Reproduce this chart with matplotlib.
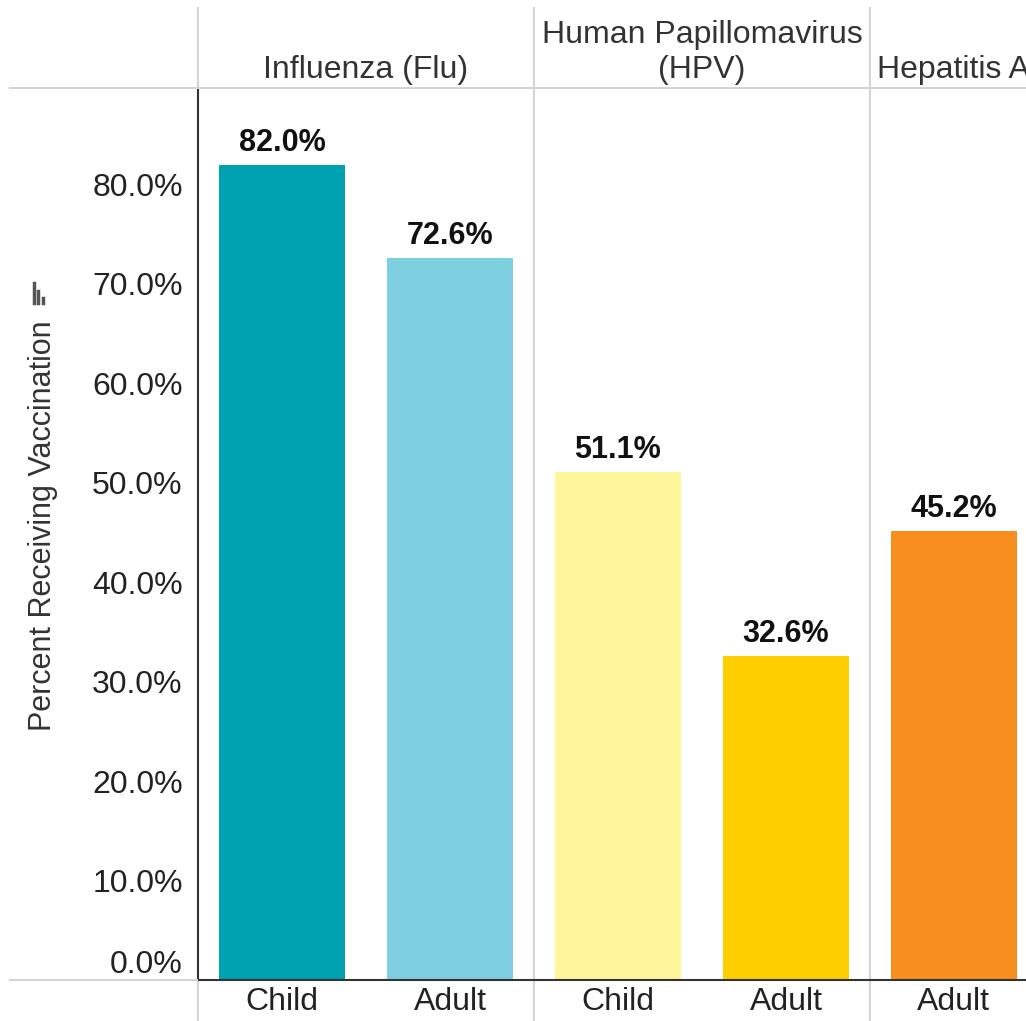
import matplotlib
matplotlib.use("Agg")
import matplotlib.pyplot as plt
from matplotlib.lines import Line2D

plt.rcParams['font.family'] = ['Liberation Sans', 'DejaVu Sans']

# data
vaccines = ["Influenza (Flu)", "Human Papillomavirus\n(HPV)", "Hepatitis A"]
groups = ["Child", "Adult", "Child", "Adult", "Adult"]
vaccine_of_bar = [0, 0, 1, 1, 2]
percents = [82.0, 72.6, 51.1, 32.6, 45.2]
bar_colors = ["#00A2B1", "#7ECFE0", "#FFF59B", "#FFCE00", "#F78E1E"]
yticks = [0, 10, 20, 30, 40, 50, 60, 70, 80]

W, H = 1026, 1021
fig = plt.figure(figsize=(W / 100, H / 100), dpi=100)
# axes placed in pixel terms: left 198, right 1026, top 88, bottom 980
ax = fig.add_axes([198 / W, (H - 980) / H, (W - 198) / W, (980 - 88) / H])

x = list(range(len(percents)))
ax.bar(x, percents, width=0.75, color=bar_colors, zorder=2)
ax.set_xlim(-0.5, 4.429)
ax.set_ylim(0, 89.7)

for xi, v in zip(x, percents):
    ax.annotate(f"{v:.1f}%", (xi, v), xytext=(0, 5), textcoords="offset points",
                ha="center", va="bottom", fontsize=22, fontweight="bold", color="#111111")

ax.set_yticks(yticks)
ax.set_yticklabels([f"{t:.1f}%" for t in yticks])
ax.tick_params(axis="y", length=0, pad=11, labelsize=23, labelcolor="#222222")
ax.get_yticklabels()[0].set_verticalalignment("bottom")
ax.set_xticks(x)
ax.set_xticklabels(groups)
ax.tick_params(axis="x", length=0, pad=5, labelsize=23, labelcolor="#222222")

for s in ["top", "right"]:
    ax.spines[s].set_visible(False)
ax.spines["left"].set_color("#333333")
ax.spines["bottom"].set_color("#333333")
ax.spines["left"].set_linewidth(1.5)
ax.spines["bottom"].set_linewidth(1.5)

# panel separators
grey = "#D4D4D4"
top_frac = (980 - 8) / (980 - 88)
bot_frac = (980 - H) / (980 - 88)
for sx in [1.5, 3.5]:
    ax.axvline(sx, ymin=bot_frac, ymax=top_frac, color=grey, lw=1.5, clip_on=False, zorder=1)
ax.axvline(-0.5, ymin=1.0, ymax=top_frac, color=grey, lw=1.5, clip_on=False)
ax.axvline(-0.5, ymin=bot_frac, ymax=0.0, color=grey, lw=1.5, clip_on=False)
fig.add_artist(Line2D([10 / W, 1], [(H - 88) / H] * 2, color=grey, lw=1.5))
fig.add_artist(Line2D([10 / W, 197 / W], [(H - 980) / H] * 2, color=grey, lw=1.5))

# panel headers (the last one runs off the right edge, as in the source)
panel_centers = [0.5, 2.5, 4.0]
for cx, name in zip(panel_centers, vaccines):
    ax.text(cx, 1.0 + 3 / 892, name, transform=ax.get_xaxis_transform(),
            ha="center", va="bottom", fontsize=23, color="#333333", clip_on=False,
            linespacing=1.2)

# y axis title and sort icon
fig.text(43 / W, (H - 526) / H, "Percent Receiving Vaccination", rotation=90,
         ha="center", va="center", fontsize=22, color="#333333")
icon = [(34, 283), (38, 291), (43, 298)]
for ix, iy in icon:
    fig.add_artist(Line2D([ix / W] * 2, [(H - 303) / H, (H - iy) / H],
                          color="#555555", lw=2.5))

fig.savefig("out.png", dpi=100)
